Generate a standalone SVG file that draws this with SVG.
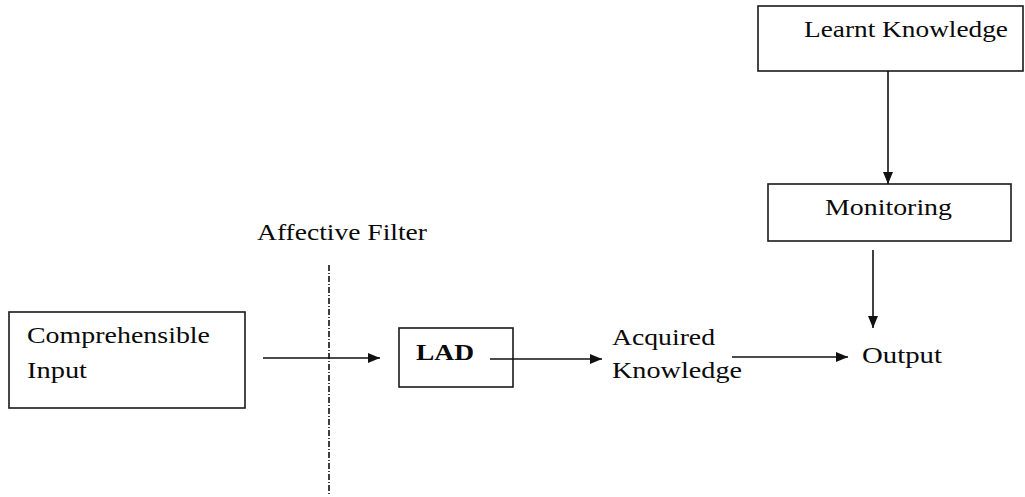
<svg xmlns="http://www.w3.org/2000/svg" width="1025" height="497" viewBox="0 0 1025 497">
<style>
.box{fill:#fff;stroke:#1a1a1a;stroke-width:1.6}
.t{font-family:"Liberation Serif","Times New Roman",serif;font-size:23px;fill:#0a0a0a}
.b{font-weight:bold}
.ln{stroke:#111;stroke-width:1.6;fill:none}
</style>
<defs>
<marker id="ah" viewBox="0 0 12 10" refX="12" refY="5" markerWidth="12" markerHeight="10" markerUnits="userSpaceOnUse" orient="auto">
<path d="M0,0 L12,5 L0,10 Z" fill="#111"/>
</marker>
</defs>
<rect width="1025" height="497" fill="#fff"/>
<g id="learnt">
<rect class="box" x="758" y="6" width="265" height="65"/>
<text class="t" x="804" y="37" textLength="204" lengthAdjust="spacingAndGlyphs">Learnt Knowledge</text>
</g>
<g id="monitoring">
<rect class="box" x="768" y="184" width="243" height="57"/>
<text class="t" x="825" y="215" textLength="127" lengthAdjust="spacingAndGlyphs">Monitoring</text>
</g>
<g id="input">
<rect class="box" x="9" y="312" width="236" height="96"/>
<text class="t" x="27" y="343" textLength="183" lengthAdjust="spacingAndGlyphs">Comprehensible</text>
<text class="t" x="27" y="378" textLength="60" lengthAdjust="spacingAndGlyphs">Input</text>
</g>
<g id="filter">
<text class="t" x="257" y="240" textLength="170" lengthAdjust="spacingAndGlyphs">Affective Filter</text>
<line class="ln" x1="329" y1="265" x2="329" y2="495" stroke-width="1.2" stroke-dasharray="6,2,1,2"/>
</g>
<g id="lad">
<rect class="box" x="399" y="328" width="114" height="59"/>
<text class="t b" x="416" y="360" textLength="58" lengthAdjust="spacingAndGlyphs">LAD</text>
</g>
<g id="acquired">
<text class="t" x="612" y="345" textLength="103" lengthAdjust="spacingAndGlyphs">Acquired</text>
<text class="t" x="612" y="378" textLength="130" lengthAdjust="spacingAndGlyphs">Knowledge</text>
</g>
<g id="output">
<text class="t" x="862" y="363" textLength="80" lengthAdjust="spacingAndGlyphs">Output</text>
</g>
<g id="connectors">
<line class="ln" x1="888" y1="71" x2="888" y2="184" marker-end="url(#ah)"/>
<line class="ln" x1="873" y1="250" x2="873" y2="328" marker-end="url(#ah)"/>
<line class="ln" x1="263" y1="358" x2="380" y2="358" marker-end="url(#ah)"/>
<line class="ln" x1="490" y1="359" x2="602" y2="359" marker-end="url(#ah)"/>
<line class="ln" x1="732" y1="357" x2="848" y2="357" marker-end="url(#ah)"/>
</g>
</svg>
